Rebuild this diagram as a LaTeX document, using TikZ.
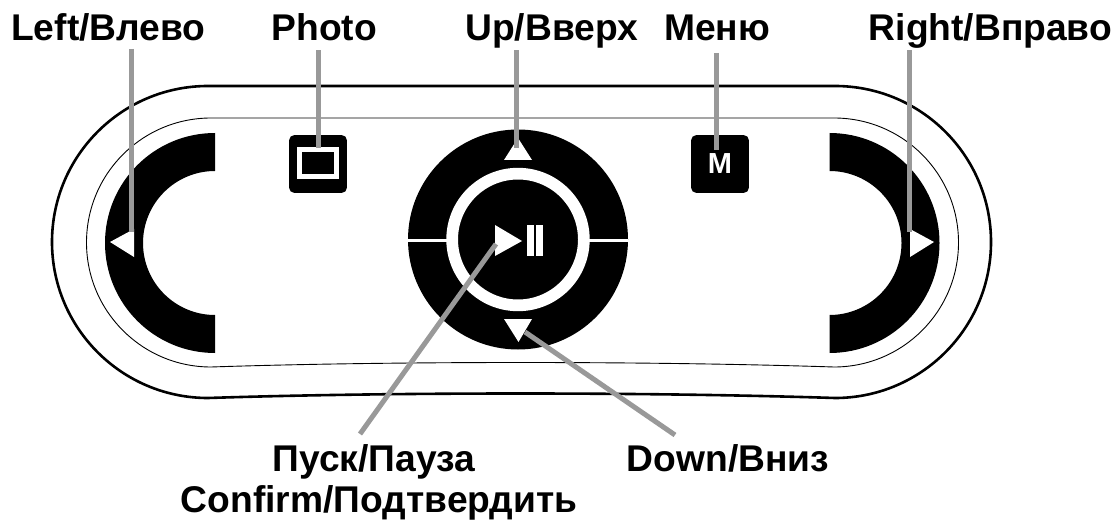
\documentclass[tikz,border=0pt]{standalone}
\usepackage{fontspec}
\setmainfont{Liberation Sans}
\usetikzlibrary{positioning}
\definecolor{leadergray}{HTML}{999999}
\tikzstyle{label} = [font=\bfseries\fontsize{37.2}{38}\selectfont, inner sep=0pt, anchor=base]
\tikzstyle{button} = [rectangle, rounded corners=5pt, fill=black, text=white, minimum width=57.7pt, minimum height=57.7pt, inner sep=0pt, font=\bfseries\fontsize{29}{29}\selectfont]
\tikzstyle{leader} = [line width=5pt, leadergray]
\tikzstyle{shell} = [draw=black, fill=none]

\begin{document}
\begin{tikzpicture}[x=1pt, y=1pt]
    \useasboundingbox (0,0) rectangle (1118,520);
    % casing
    \draw[shell, line width=2.6pt] (208,434) -- (835,434) arc[start angle=90, end angle=-90, radius=156] .. controls (650,128) and (390,128) .. (208,122) arc[start angle=270, end angle=90, radius=156] -- cycle;
    \draw[shell, line width=0.9pt] (211,402) -- (834,402) arc[start angle=90, end angle=-90, radius=124.5] .. controls (650,159) and (390,159) .. (211,153) arc[start angle=270, end angle=90, radius=124.5] -- cycle;
    % side keys
    \fill (215,387) arc[start angle=90, end angle=270, radius=110] -- (215,205) arc[start angle=270, end angle=90, radius=72] -- cycle;
    \fill (829.5,387) arc[start angle=90, end angle=-90, radius=110] -- (829.5,205) arc[start angle=-90, end angle=90, radius=72] -- cycle;
    \fill[white] (110,278) -- (134,291) -- (134,263) -- cycle;
    \fill[white] (934,278) -- (910,291) -- (910,263) -- cycle;
    % small buttons
    \node[button] (photo) at (318,356) {};
    \node[rectangle, draw=white, fill=black, line width=5pt, minimum width=37pt, minimum height=27pt, inner sep=0pt] (frame) at (318,356.5) {};
    \node[button] (menu) at (720,356) {M};
    % round pad
    \node[circle, fill=black, minimum size=220pt, inner sep=0pt] (pad) at (518,280.5) {};
    \draw[white, line width=3pt] ([yshift=-1.5pt]pad.west) -- +(40,0);
    \draw[white, line width=3pt] ([yshift=-1.5pt]pad.east) -- +(-40,0);
    \node[circle, draw=white, fill=black, line width=11.7pt, minimum size=131.7pt, inner sep=0pt] (ring) at (518,280.5) {};
    \fill[white] (518,382) -- (532,360) -- (504,360) -- cycle;
    \fill[white] (518.5,178) -- (532,201) -- (504,201) -- cycle;
    \fill[white] (522,279) -- (495,295) -- (495,264) -- cycle;
    \fill[white] (527,264) rectangle (534,295);
    \fill[white] (536,264) rectangle (542.7,295);
    % labels
    \node[label] (left) at (108.4,479) {Left/Влево};
    \node[label] (photolabel) at (324.4,479) {Photo};
    \node[label] (up) at (551.7,479) {Up/Вверх};
    \node[label] (menulabel) at (717,479) {Меню};
    \node[label] (right) at (990.4,479) {Right/Вправо};
    \node[label] (pause) at (373.8,48.3) {Пуск/Пауза};
    \node[label] (confirm) at (379,8) {Confirm/Подтвердить};
    \node[label] (down) at (728,48.3) {Down/Вниз};
    % leader ends
    \coordinate (lefttop) at (131.7,471);
    \coordinate (lefttip) at (131.7,288);
    \coordinate (phototop) at (318,469.5);
    \coordinate (phototip) at (318,372);
    \coordinate (uptop) at (516.7,469.5);
    \coordinate (uptip) at (516.7,372);
    \coordinate (menutop) at (716.7,467);
    \coordinate (menutip) at (716.7,369.5);
    \coordinate (righttop) at (909,470);
    \coordinate (righttip) at (909,288);
    \coordinate (playtip) at (496,276);
    \coordinate (downtip) at (525,188);
    \coordinate (pauseend) at (360,86);
    \coordinate (downend) at (675,85);
    % leaders
    \draw[leader] (lefttop) -- (lefttip);
    \draw[leader] (phototop) -- (phototip);
    \draw[leader] (uptop) -- (uptip);
    \draw[leader] (menutop) -- (menutip);
    \draw[leader] (righttop) -- (righttip);
    \draw[leader] (pauseend) -- (playtip);
    \draw[leader] (downend) -- (downtip);
\end{tikzpicture}
\end{document}
